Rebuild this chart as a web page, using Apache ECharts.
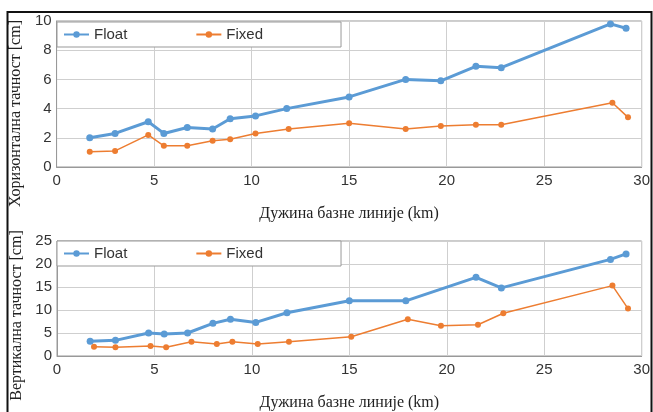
<!DOCTYPE html>
<html><head><meta charset="utf-8">
<script src="https://cdn.jsdelivr.net/npm/echarts@6/dist/echarts.min.js"></script>
<style>html,body{margin:0;padding:0;background:#fff}#c{width:653px;height:412px}</style>
</head><body><div id="c"></div>
<script>
const seriesNames = ['Float', 'Fixed'];
const xTitle = 'Дужина базне линије (km)';
const yTitleTop = 'Хоризонтална тачност [cm]';
const yTitleBottom = 'Вертикална тачност [cm]';

const hFloatX = [1.7, 3.0, 4.7, 5.5, 6.7, 8.0, 8.9, 10.2, 11.8, 15.0, 17.9, 19.7, 21.5, 22.8, 28.4, 29.2];
const hFloatY = [2.0, 2.3, 3.1, 2.3, 2.7, 2.6, 3.3, 3.5, 4.0, 4.8, 6.0, 5.9, 6.9, 6.8, 9.8, 9.5];
const hFixedX = [1.7, 3.0, 4.7, 5.5, 6.7, 8.0, 8.9, 10.2, 11.9, 15.0, 17.9, 19.7, 21.5, 22.8, 28.5, 29.3];
const hFixedY = [1.05, 1.1, 2.2, 1.45, 1.45, 1.8, 1.9, 2.3, 2.6, 3.0, 2.6, 2.8, 2.9, 2.9, 4.4, 3.4];

const vFloatX = [1.7, 3.0, 4.7, 5.5, 6.7, 8.0, 8.9, 10.2, 11.8, 15.0, 17.9, 21.5, 22.8, 28.4, 29.2];
const vFloatY = [3.2, 3.4, 5.0, 4.8, 5.0, 7.1, 8.0, 7.3, 9.4, 12.0, 12.0, 17.1, 14.8, 21.0, 22.2];
const vFixedX = [1.9, 3.0, 4.8, 5.6, 6.9, 8.2, 9.0, 10.3, 11.9, 15.1, 18.0, 19.7, 21.6, 22.9, 28.5, 29.3];
const vFixedY = [2.0, 1.9, 2.2, 1.9, 3.1, 2.6, 3.1, 2.6, 3.1, 4.2, 8.0, 6.6, 6.8, 9.3, 15.3, 10.3];

const xTicks = {min: 0, max: 30, interval: 5};
const yTopTicks = {min: 0, max: 10, interval: 2};
const yBottomTicks = {min: 0, max: 25, interval: 5};

const BLUE = '#5b9bd5', ORANGE = '#ed7d31';
const zip = (a, b) => a.map((v, i) => [v, b[i]]);

const chart = echarts.init(document.getElementById('c'), null, {renderer: 'canvas'});

function xAxis(gi) {
  return {
    type: 'value', gridIndex: gi, min: xTicks.min, max: xTicks.max, interval: xTicks.interval,
    name: xTitle, nameLocation: 'middle', nameGap: 39,
    nameTextStyle: {fontFamily: 'Liberation Serif', fontSize: 16, color: '#222'},
    axisLine: {show: true, lineStyle: {color: '#999', width: 1}},
    axisTick: {show: false},
    axisLabel: {fontFamily: 'Liberation Sans', fontSize: 15, color: '#333', margin: 6},
    splitLine: {show: true, lineStyle: {color: '#cfcfcf', width: 1}}
  };
}
function yAxis(gi, t, name, pad, gap) {
  return {
    type: 'value', gridIndex: gi, min: t.min, max: t.max, interval: t.interval,
    name: name, nameLocation: 'middle', nameGap: gap, nameRotate: 90,
    nameTextStyle: {fontFamily: 'Liberation Serif', fontSize: 16, color: '#222', padding: pad},
    axisLine: {show: true, lineStyle: {color: '#999', width: 1}},
    axisTick: {show: false},
    axisLabel: {fontFamily: 'Liberation Sans', fontSize: 15, color: '#333', margin: 5},
    splitLine: {show: true, lineStyle: {color: '#cfcfcf', width: 1}}
  };
}
function legend(top) {
  return {
    data: seriesNames, left: 57, top: top, orient: 'horizontal',
    itemWidth: 25, itemHeight: 8, itemGap: 68,
    padding: [5, 78, 5, 6],
    backgroundColor: '#fff', borderColor: '#999', borderWidth: 1,
    textStyle: {fontFamily: 'Liberation Sans', fontSize: 15, color: '#333'},
    inactiveColor: '#ccc'
  };
}
function lineSeries(name, gi, data, color, width, sym) {
  return {
    name: name, type: 'line', xAxisIndex: gi, yAxisIndex: gi, data: data,
    symbol: 'circle', symbolSize: sym, showSymbol: true,
    lineStyle: {color: color, width: width}, itemStyle: {color: color},
    animation: false, z: name === 'Float' ? 3 : 2
  };
}

chart.setOption({
  animation: false,
  backgroundColor: '#fff',
  grid: [
    {left: 54, top: 21, right: 10, height: 146, show: true, borderColor: '#999', borderWidth: 1, backgroundColor: 'transparent'},
    {left: 57, top: 241, right: 8, height: 125, show: true, borderColor: '#999', borderWidth: 1, backgroundColor: 'transparent'}
  ],
  xAxis: [xAxis(0), xAxis(1)],
  yAxis: [yAxis(0, yTopTicks, yTitleTop, [0, 39, 0, 0], 30), yAxis(1, yBottomTicks, yTitleBottom, [0, 34, 0, 0], 32)],
  legend: [legend(22), legend(241)],
  series: [
    lineSeries('Float', 0, zip(hFloatX, hFloatY), BLUE, 3, 7),
    lineSeries('Fixed', 0, zip(hFixedX, hFixedY), ORANGE, 1.5, 6),
    lineSeries('Float', 1, zip(vFloatX, vFloatY), BLUE, 3, 7),
    lineSeries('Fixed', 1, zip(vFixedX, vFixedY), ORANGE, 1.5, 6)
  ],
  graphic: [
    {type: 'rect', shape: {x: 7.5, y: 12, width: 644, height: 410}, style: {fill: 'none', stroke: '#111', lineWidth: 2}, silent: true, z: 100}
  ]
});
</script></body></html>
